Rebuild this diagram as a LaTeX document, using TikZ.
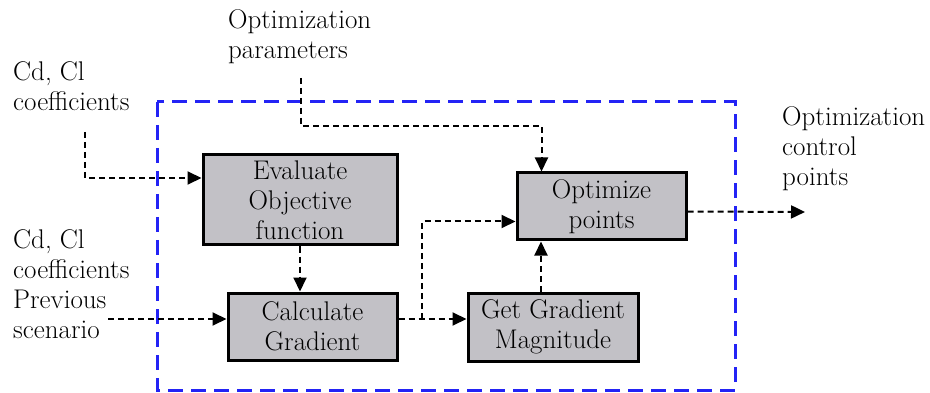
\documentclass[tikz,border=0pt]{standalone}
\usepackage{fontspec}
\usetikzlibrary{arrows.meta}
\definecolor{blockgray}{RGB}{194,193,198}
\definecolor{frameblue}{RGB}{35,35,245}
\begin{document}
\begin{tikzpicture}[x=1pt,y=-1pt,font=\fontsize{27}{30}\selectfont,
		block/.style={rectangle,fill=blockgray,draw=black,line width=3pt,align=center,inner sep=0pt},
		sig/.style={black,line width=2pt,dash pattern=on 6pt off 4pt,-{Triangle[length=14pt,width=13pt]}},
		lbl/.style={anchor=west,align=left,inner sep=0pt}]
				\useasboundingbox (0,0) rectangle (930,393);

				% optimization module
				\draw[frameblue,line width=3pt,dash pattern=on 15pt off 8pt] (157,102) rectangle (735,390);

				% individual blocks
				\node[block,minimum width=194pt,minimum height=90pt] (eval) at (300,200) {Evaluate\\Objective\\function};
				\node[block,minimum width=169pt,minimum height=67pt] (calc) at (312.5,326.5) {Calculate\\Gradient};
				\node[block,minimum width=170pt,minimum height=68pt] (mag) at (553,327) {Get Gradient\\Magnitude};
				\node[block,minimum width=169pt,minimum height=67pt] (opt) at (601.5,206.5) {Optimize\\points};

				% inputs and outputs
				\node[lbl] (cdtop) at (13,86) {Cd, Cl\\coefficients};
				\node[lbl] (cdprev) at (13,284) {Cd, Cl\\coefficients\\Previous\\scenario};
				\node[lbl] (params) at (228,37) {Optimization\\parameters};
				\node[lbl] (outtxt) at (782,149) {Optimization\\control\\points};

				\coordinate (cdin) at (85,132);
				\coordinate (parin) at (301,78);
				\coordinate (previn) at (108,319);
				\coordinate (split) at (422,319);
				\coordinate (optout) at (805,212);
				\coordinate (magtop) at ([xshift=-12pt]mag.north);

				% coefficient and parameter signals
				\draw[sig] (cdin) |- ([yshift=22pt]eval.west);
				\draw[sig] (parin) -- ++(0,48) -| ([xshift=-60pt]opt.north);
				\draw[sig] (previn) -- (previn -| calc.west);

				% gradient path
				\draw[sig] (eval.south) -- (eval.south |- calc.north);
				\draw[sig] (previn -| calc.east) -- (previn -| mag.west);
				\draw[sig] (split) |- ([yshift=-15pt]opt.west);
				\draw[sig] (magtop) -- (magtop |- opt.south);

				% control points out
				\draw[sig] ([yshift=-5pt]opt.east) -- (optout);
			\end{tikzpicture}
\end{document}
